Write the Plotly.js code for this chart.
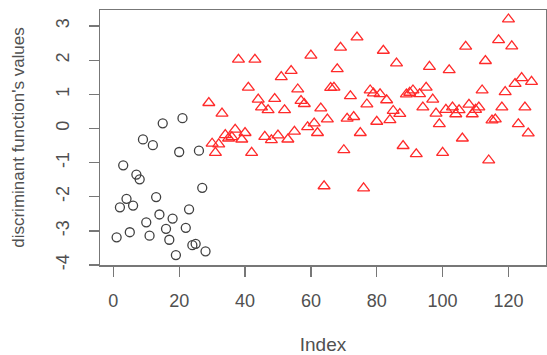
<!DOCTYPE html>
<html>
<head>
<meta charset="utf-8">
<script src="https://cdn.plot.ly/plotly-3.0.1.min.js"></script>
<style>
  html, body { margin: 0; padding: 0; background: #fff; }
  #chart { width: 547px; height: 355px; }
</style>
</head>
<body>
<div id="chart"></div>
<script>
// Group 1 (black open circles), indices 1..28
const group1Values = [-3.19, -2.31, -1.08, -2.06, -3.04, -2.26, -1.35, -1.49, -0.32, -2.75,
  -3.14, -0.49, -2.01, -2.52, 0.15, -2.94, -3.26, -2.64, -3.71, -0.69,
  0.30, -2.91, -2.37, -3.42, -3.38, -0.65, -1.74, -3.60];

// Group 2 (red open triangles), indices 29..127
const group2Values = [0.75, -0.44, -0.71, -0.46, 0.44, -0.19, -0.29, -0.25, -0.03, 2.02,
  -0.32, -0.13, 1.20, -0.71, 2.02, 0.85, 0.62, -0.24, 0.54, -0.34,
  0.87, -0.20, 1.51, 0.54, -0.32, 1.69, -0.09, 1.15, 0.81, 0.72,
  0.04, 2.14, 0.15, -0.13, 0.59, -1.69, 0.27, 1.19, 1.20, 1.74,
  2.37, -0.63, 0.29, 0.95, 0.34, 2.67, -0.13, -1.75, 0.71, 1.12,
  1.03, 0.20, 1.01, 2.28, 0.83, 0.25, 0.52, 1.91, 0.43, -0.51,
  1.00, 1.05, 1.12, -0.75, 1.01, 0.62, 1.20, 1.81, 0.85, 0.44,
  0.13, -0.71, 0.55, 1.71, 0.62, 0.42, 0.54, -0.29, 2.40, 0.70,
  0.42, 0.55, 0.62, 1.12, 1.98, -0.93, 0.24, 0.27, 2.59, 0.62,
  1.07, 3.20, 2.41, 1.31, 0.13, 1.48, 0.62, -0.14, 1.37];

const xTickValues = [0, 20, 40, 60, 80, 100, 120];
const yTickValues = [-4, -3, -2, -1, 0, 1, 2, 3];
const xLabel = "Index";
const yLabel = "discriminant function's values";

// index positions (plot(x) uses 1..n as the x axis)
const index1 = group1Values.map((v, i) => i + 1);
const index2 = group2Values.map((v, i) => group1Values.length + i + 1);

const FONT = 'Liberation Sans, Arial, Helvetica, sans-serif';
const INK = '#505050';

const traces = [
  {
    x: index1, y: group1Values, type: 'scatter', mode: 'markers',
    marker: { symbol: 'circle-open', size: 9, color: '#404040', line: { width: 1.3, color: '#404040' } },
    hoverinfo: 'x+y', showlegend: false
  },
  {
    x: index2, y: group2Values, type: 'scatter', mode: 'markers',
    marker: { symbol: 'triangle-up-open', size: 10.5, color: '#ff2a2a', line: { width: 1.3, color: '#ff2a2a' } },
    hoverinfo: 'x+y', showlegend: false
  }
];

const layout = {
  width: 547, height: 355,
  margin: { l: 100, r: 1, t: 10, b: 90, pad: 0 },
  paper_bgcolor: '#ffffff', plot_bgcolor: '#ffffff',
  font: { family: FONT, color: INK, size: 18 },
  showlegend: false,
  xaxis: {
    range: [-4.05, 131.4],
    tickmode: 'array', tickvals: xTickValues, ticktext: xTickValues.map(String),
    showgrid: false, zeroline: false,
    showline: true, mirror: true, linecolor: '#777777', linewidth: 1.5,
    ticks: 'outside', ticklen: 10, tickwidth: 1.3, tickcolor: '#777777',
    ticklabelstandoff: 9,
    tickfont: { family: FONT, size: 18, color: INK },
    title: { text: xLabel, font: { family: FONT, size: 19, color: INK }, standoff: 31 }
  },
  yaxis: {
    range: [-4.0, 3.47],
    tickmode: 'array', tickvals: yTickValues, ticktext: yTickValues.map(String),
    tickangle: -90,
    showgrid: false, zeroline: false,
    showline: true, mirror: true, linecolor: '#777777', linewidth: 1.5,
    ticks: 'outside', ticklen: 10, tickwidth: 1.3, tickcolor: '#777777',
    ticklabelstandoff: 12,
    tickfont: { family: FONT, size: 18, color: INK },
    title: { text: yLabel, font: { family: FONT, size: 17, color: INK }, standoff: 24 }
  }
};

Plotly.newPlot('chart', traces, layout, { displayModeBar: false, staticPlot: true });
</script>
</body>
</html>
